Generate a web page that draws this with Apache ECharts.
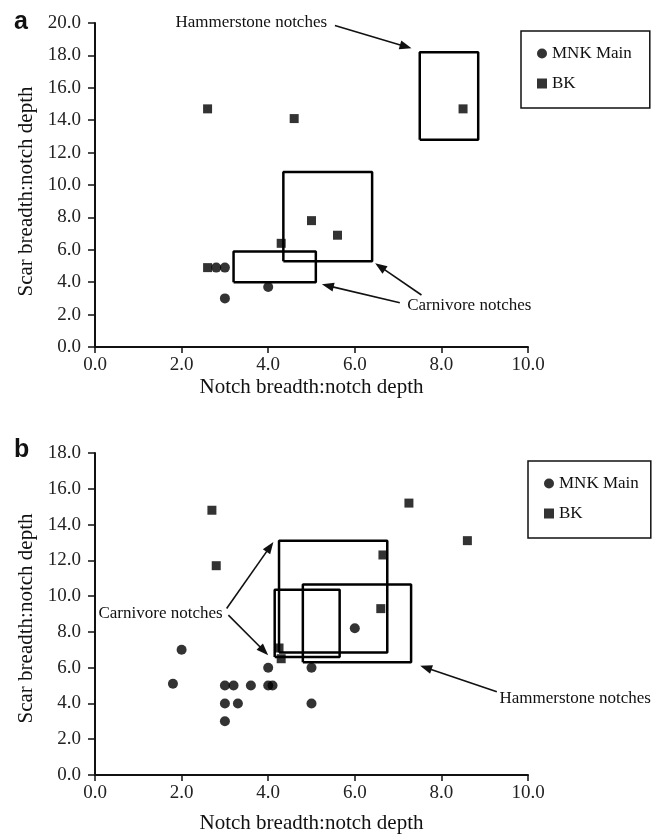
<!DOCTYPE html>
<html><head><meta charset="utf-8">
<script src="https://cdn.jsdelivr.net/npm/echarts@6/dist/echarts.min.js"></script>
<style>html,body{margin:0;padding:0;background:#fff}#c{width:652px;height:839px}</style>
</head><body><div id="c"></div>
<script>
// ---- Data ----
const xTicksMax = 10, yMaxA = 20, yMaxB = 18, tickStep = 2;
const seriesNames = ['MNK Main', 'BK'];
// panel a
const mnkA = [[2.8,4.9],[3.0,4.9],[3.0,3.0],[4.0,3.7]];
const bkA  = [[2.6,4.9],[2.6,14.7],[4.6,14.1],[4.3,6.4],[5.0,7.8],[5.6,6.9],[8.5,14.7]];
// panel b
const mnkB = [[1.8,5.1],[2.0,7.0],[3.0,5.0],[3.2,5.0],[3.0,4.0],[3.3,4.0],[3.0,3.0],[3.6,5.0],[4.0,6.0],[4.0,5.0],[4.1,5.0],[5.0,6.0],[5.0,4.0],[6.0,8.2]];
const bkB  = [[2.7,14.8],[2.8,11.7],[7.25,15.2],[8.6,13.1],[6.65,12.3],[6.6,9.3],[4.25,7.1],[4.3,6.5]];
// notch ranges [x0, y0, x1, y1]
const carnivoreBoxesA = [[3.2,4.0,5.1,5.9],[4.35,5.3,6.4,10.8]];
const hammerBoxesA    = [[7.5,12.8,8.85,18.2]];
const carnivoreBoxesB = [[4.25,6.85,6.75,13.1],[4.15,6.6,5.65,10.35]];
const hammerBoxesB    = [[4.8,6.3,7.3,10.65]];
// annotation labels [text, x, y] and arrows [fromX, fromY, toX, toY], in data units
const labelsA = [['Hammerstone notches',1.86,20.0],['Carnivore notches',7.21,2.53]];
const arrowsA = [[5.54,19.85,7.31,18.44],[7.54,3.21,6.47,5.17],[7.04,2.73,5.24,3.87]];
const labelsB = [['Carnivore notches',0.08,9.03],['Hammerstone notches',9.34,4.28]];
const arrowsB = [[3.04,9.31,4.12,13.03],[3.08,8.94,4.0,6.70],[9.28,4.65,7.51,6.11]];

const SERIF = '"Liberation Serif","Times New Roman",serif';
const chart = echarts.init(document.getElementById('c'), null, {renderer:'canvas'});

function boxPath(b){ return [[b[0],b[1]],[b[2],b[1]],[b[2],b[3]],[b[0],b[3]],[b[0],b[1]]]; }
function boxSeries(boxes, gi){
  return boxes.map(b => ({type:'line', xAxisIndex:gi, yAxisIndex:gi, data:boxPath(b), symbol:'none', silent:true,
    lineStyle:{color:'#000', width:2.5}, z:3, animation:false, clip:false}));
}
function xAxis(gi, gap){
  return {type:'value', gridIndex:gi, min:0, max:xTicksMax, interval:tickStep,
    name:'Notch breadth:notch depth', nameLocation:'middle', nameGap:gap,
    nameTextStyle:{fontFamily:SERIF, fontSize:21, color:'#111'},
    axisLine:{lineStyle:{color:'#111', width:2}}, axisTick:{length:6, lineStyle:{color:'#111', width:1.5}},
    axisLabel:{fontFamily:SERIF, fontSize:19, color:'#222', margin:9, formatter:v=>v.toFixed(1)},
    splitLine:{show:false}};
}
function yAxis(gi, max, pad){
  return {type:'value', gridIndex:gi, min:0, max:max, interval:tickStep,
    name:'Scar breadth:notch depth', nameLocation:'middle', nameGap:58, nameRotate:90,
    nameTextStyle:{fontFamily:SERIF, fontSize:21, color:'#111', padding:pad},
    axisLine:{show:true, lineStyle:{color:'#111', width:2}}, axisTick:{show:true, length:7, lineStyle:{color:'#111', width:1.5}},
    axisLabel:{fontFamily:SERIF, fontSize:19, color:'#222', margin:14, formatter:v=>v.toFixed(1)},
    splitLine:{show:false}};
}
function legend(left, top, padRight){
  return {show:true, orient:'vertical', left:left, top:top, itemWidth:10, itemHeight:10, itemGap:13,
    padding:[14,padRight,16,16], borderColor:'#111', borderWidth:1.5, backgroundColor:'#fff',
    textStyle:{fontFamily:SERIF, fontSize:17, color:'#111'}, selectedMode:false,
    data:[{name:seriesNames[0], icon:'circle'},{name:seriesNames[1], icon:'rect'}]};
}
function scatter(name, data, gi, sym, size){
  return {type:'scatter', name:name, xAxisIndex:gi, yAxisIndex:gi, data:data, symbol:sym, symbolSize:size,
    itemStyle:{color:'#000'}, z:4, animation:false};
}

chart.setOption({
  backgroundColor:'#fff',
  animation:false,
  grid:[{left:95, top:23, width:433, height:324},{left:95, top:453, width:433, height:322}],
  xAxis:[xAxis(0,30), xAxis(1,38)],
  yAxis:[yAxis(0,yMaxA,[0,13,0,0]), yAxis(1,yMaxB,[0,9,0,0])],
  legend:[legend(521,31,18), legend(528,461,12)],
  series:[
    scatter(seriesNames[0], mnkA, 0, 'circle', 10),
    scatter(seriesNames[1], bkA, 0, 'rect', 9),
    scatter(seriesNames[0], mnkB, 1, 'circle', 10),
    scatter(seriesNames[1], bkB, 1, 'rect', 9),
    ...boxSeries(carnivoreBoxesA,0), ...boxSeries(hammerBoxesA,0),
    ...boxSeries(carnivoreBoxesB,1), ...boxSeries(hammerBoxesB,1)
  ]
});

function annotations(gi, labels, arrows){
  const g = [];
  labels.forEach(l => {
    const p = chart.convertToPixel({gridIndex:gi}, [l[1], l[2]]);
    g.push({type:'text', z:10, style:{text:l[0], x:p[0], y:p[1], fontFamily:SERIF, fontSize:17, fill:'#111', align:'left', verticalAlign:'middle'}});
  });
  arrows.forEach(a => {
    const p0 = chart.convertToPixel({gridIndex:gi}, [a[0], a[1]]);
    const p1 = chart.convertToPixel({gridIndex:gi}, [a[2], a[3]]);
    const dx = p1[0]-p0[0], dy = p1[1]-p0[1], len = Math.hypot(dx,dy), ux = dx/len, uy = dy/len;
    const hl = 12, hw = 4.5;
    const bx = p1[0]-ux*hl, by = p1[1]-uy*hl;
    g.push({type:'line', z:10, shape:{x1:p0[0], y1:p0[1], x2:bx+ux*2, y2:by+uy*2}, style:{stroke:'#111', lineWidth:1.6}});
    g.push({type:'polygon', z:10, shape:{points:[[p1[0],p1[1]],[bx-uy*hw, by+ux*hw],[bx+uy*hw, by-ux*hw]]}, style:{fill:'#111'}});
  });
  return g;
}
const LETTER_FONT = '"Liberation Sans",Arial,sans-serif';
const panelLetters = [{type:'text', style:{text:'a', x:14, y:10, fontFamily:LETTER_FONT, fontWeight:'bold', fontSize:25, fill:'#111', verticalAlign:'top'}},
  {type:'text', style:{text:'b', x:14, y:438, fontFamily:LETTER_FONT, fontWeight:'bold', fontSize:25, fill:'#111', verticalAlign:'top'}}];
chart.setOption({graphic: [...annotations(0, labelsA, arrowsA), ...annotations(1, labelsB, arrowsB), ...panelLetters]});
</script></body></html>
